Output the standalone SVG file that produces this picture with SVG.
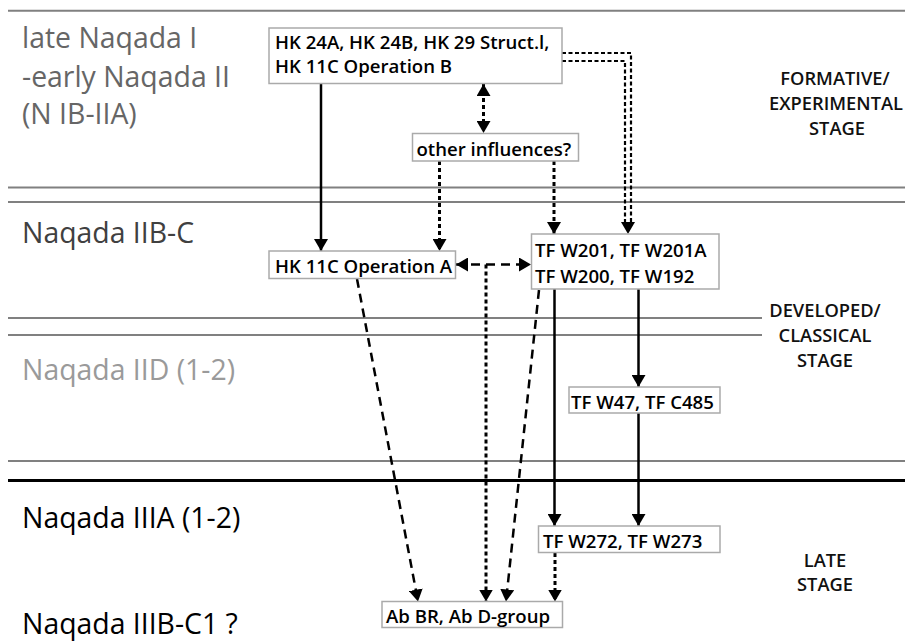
<svg xmlns="http://www.w3.org/2000/svg" width="905" height="641" viewBox="0 0 905 641">
<style>
.bg{fill:#fff}
.hl{stroke:#808080;stroke-width:2;fill:none}
.hlb{stroke:#000;stroke-width:3;fill:none}
.per{font-family:"Open Sans",Lato,"Liberation Sans",sans-serif;font-size:28.4px}
.stage{font-family:"Open Sans",Lato,"Liberation Sans",sans-serif;font-size:18.3px;font-weight:600;fill:#111;text-anchor:middle}
.box rect{fill:#fff;stroke:#aaa;stroke-width:1.5}
.box text{font-family:"Open Sans",Lato,"Liberation Sans",sans-serif;font-size:18.6px;font-weight:600;fill:#000}
.solid{stroke:#000;stroke-width:2.5;fill:none}
.dot{stroke:#000;stroke-width:3;fill:none;stroke-dasharray:4 3}
.dot2{stroke:#000;stroke-width:2.2;fill:none;stroke-dasharray:4 2.5}
.dash{stroke:#000;stroke-width:2.5;fill:none;stroke-dasharray:9 6}
</style>
<defs>
<marker id="ah" markerUnits="userSpaceOnUse" markerWidth="12" markerHeight="14" refX="12" refY="7" orient="auto-start-reverse" viewBox="0 0 12 14">
<path d="M0,0 L12,7 L0,14 z" fill="#000"/>
</marker>
</defs>
<rect class="bg" x="0" y="0" width="905" height="641"/>
<g id="period-lines">
<line class="hl" x1="8" y1="10.7" x2="905" y2="10.7"/>
<line class="hl" x1="8" y1="187.5" x2="905" y2="187.5"/>
<line class="hl" x1="8" y1="202" x2="905" y2="202"/>
<line class="hl" x1="8" y1="318" x2="762" y2="318"/>
<line class="hl" x1="8" y1="335" x2="762" y2="335"/>
<line class="hl" x1="8" y1="461" x2="905" y2="461"/>
<line class="hlb" x1="8" y1="480.5" x2="905" y2="480.5"/>
</g>
<g id="period-labels">
<text class="per" fill="#666" x="22" y="48">late Naqada I</text>
<text class="per" fill="#666" x="22" y="87">-early Naqada II</text>
<text class="per" fill="#666" x="22" y="124">(N IB-IIA)</text>
<text class="per" fill="#404040" x="22" y="243">Naqada IIB-C</text>
<text class="per" fill="#9a9a9a" x="22" y="380">Naqada IID (1-2)</text>
<text class="per" fill="#000" x="22" y="528">Naqada IIIA (1-2)</text>
<text class="per" fill="#000" x="22" y="634">Naqada IIIB-C1 ?</text>
</g>
<g id="stage-labels">
<text class="stage" x="835" y="85">FORMATIVE/</text>
<text class="stage" x="836" y="110">EXPERIMENTAL</text>
<text class="stage" x="837" y="135">STAGE</text>
<text class="stage" x="825" y="317">DEVELOPED/</text>
<text class="stage" x="825" y="342">CLASSICAL</text>
<text class="stage" x="825" y="367">STAGE</text>
<text class="stage" x="825" y="567">LATE</text>
<text class="stage" x="825" y="591">STAGE</text>
</g>
<g id="connectors">
<line class="solid" x1="321" y1="84" x2="321" y2="251" marker-end="url(#ah)"/>
<line class="dot" x1="483.5" y1="84" x2="483.5" y2="133" marker-start="url(#ah)" marker-end="url(#ah)"/>
<line class="dot" x1="439.5" y1="161" x2="439.5" y2="251" marker-end="url(#ah)"/>
<line class="dot" x1="554" y1="161" x2="554" y2="234" marker-end="url(#ah)"/>
<path class="dot2" d="M562,53 H631 V226"/>
<path class="dot2" d="M562,61 H625 V226"/>
<line stroke="none" x1="628" y1="220" x2="628" y2="234" marker-end="url(#ah)"/>
<line class="dash" x1="456" y1="264.5" x2="531" y2="264.5" marker-start="url(#ah)" marker-end="url(#ah)"/>
<line class="dot" x1="486" y1="264.5" x2="486" y2="601.5" marker-end="url(#ah)"/>
<line class="dash" x1="357" y1="279" x2="418" y2="601.5" marker-end="url(#ah)"/>
<line class="dash" x1="539" y1="290" x2="506" y2="601.5" marker-end="url(#ah)"/>
<line class="solid" x1="554.5" y1="289" x2="554.5" y2="526" marker-end="url(#ah)"/>
<line class="solid" x1="638.5" y1="289" x2="638.5" y2="387" marker-end="url(#ah)"/>
<line class="solid" x1="638.5" y1="413" x2="638.5" y2="526" marker-end="url(#ah)"/>
<line class="dot" x1="555" y1="553" x2="555" y2="601.5" marker-end="url(#ah)"/>
</g>
<g id="hk24" class="box">
<rect x="269" y="28" width="293" height="55.5"/>
<text x="275" y="48.5">HK 24A, HK 24B, HK 29 Struct.l,</text>
<text x="275" y="73">HK 11C Operation B</text>
</g>
<g id="other" class="box">
<rect x="412.5" y="133.5" width="166" height="27.5"/>
<text x="416.5" y="155.5">other influences?</text>
</g>
<g id="hk11a" class="box">
<rect x="269" y="251" width="186.5" height="27.5"/>
<text x="275" y="273">HK 11C Operation A</text>
</g>
<g id="tfw201" class="box">
<rect x="531.5" y="234" width="187.5" height="55"/>
<text x="535" y="256.5">TF W201, TF W201A</text>
<text x="535" y="283">TF W200, TF W192</text>
</g>
<g id="tfw47" class="box">
<rect x="569" y="387" width="151" height="26"/>
<text x="571" y="409">TF W47, TF C485</text>
</g>
<g id="tfw272" class="box">
<rect x="538.5" y="526" width="181.5" height="26.5"/>
<text x="543" y="548">TF W272, TF W273</text>
</g>
<g id="ab" class="box">
<rect x="382" y="601.5" width="180.5" height="26"/>
<text x="386" y="623">Ab BR, Ab D-group</text>
</g>
</svg>
